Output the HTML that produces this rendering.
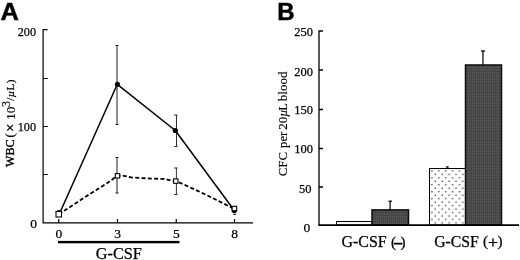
<!DOCTYPE html>
<html><head><meta charset="utf-8">
<style>
html,body{margin:0;padding:0;background:#fff;}
body{width:520px;height:260px;overflow:hidden;}
svg{display:block;}
text{font-family:"Liberation Serif",serif;fill:#000;stroke:#000;stroke-width:0.25px;}
.b{font-family:"Liberation Sans",sans-serif;font-weight:bold;font-size:24px;stroke-width:0.45px;}
.t{font-size:13.5px;}
.y{font-size:13px;stroke-width:inherit;}
.g{font-size:16px;}
</style></head><body>
<svg width="520" height="260" viewBox="0 0 520 260">
<defs>
<pattern id="dots" x="430" y="169.2" width="6.9" height="6.92" patternUnits="userSpaceOnUse">
<rect width="6.9" height="6.92" fill="#fff"/>
<circle cx="1.9" cy="1.8" r="0.72" fill="#222"/>
<circle cx="5.25" cy="5.26" r="0.72" fill="#222"/>
</pattern>
<pattern id="dk" x="0" y="0" width="2" height="3" patternUnits="userSpaceOnUse">
<rect width="2" height="3" fill="#454545"/>
<rect x="0" y="0" width="1" height="2" fill="#575757"/>
</pattern>
</defs>
<rect width="520" height="260" fill="#fff"/>
<!-- Panel A -->
<text class="b" x="0.5" y="19.5" textLength="18.4" lengthAdjust="spacingAndGlyphs">A</text>
<g stroke="#000" stroke-width="1.2" fill="none">
<path d="M47.6 29.7H43.1V222.9H253"/>
<path d="M43.1 78.5H47.9M43.1 126.5H47.9M43.1 174.5H47.9" stroke-width="1"/>
<path d="M58.75 223v-4.1M117.5 223v-4.1M176.25 223v-4.1M234.5 223v-4.1M233.5 214.3h2.2"/>
</g>
<text class="t" x="36" y="36" text-anchor="end" textLength="18.3" lengthAdjust="spacingAndGlyphs">200</text>
<text class="t" x="36" y="131" text-anchor="end" textLength="18.3" lengthAdjust="spacingAndGlyphs">100</text>
<text class="t" x="37" y="227.7" text-anchor="end">0</text>
<text class="t" x="58.75" y="237.7" text-anchor="middle">0</text>
<text class="t" x="117.5" y="237.7" text-anchor="middle">3</text>
<text class="t" x="176.25" y="237.7" text-anchor="middle">5</text>
<text class="t" x="234.5" y="237.7" text-anchor="middle">8</text>
<g transform="translate(14.3,167) rotate(-90)" style="stroke-width:0.25px">
<text class="y" x="0" y="0" style="font-size:13.5px;stroke-width:0.35px" textLength="27.6" lengthAdjust="spacingAndGlyphs">WBC</text>
<text class="y" x="29.6" y="-0.3" style="font-size:12.5px">(<tspan x="34.9" dy="1.3" style="font-size:15px;stroke-width:0.4px">×</tspan></text>
<text class="y" x="46.9" y="0.3" style="font-size:13.5px;stroke-width:0.15px">10<tspan x="60.1" dy="-4.7" style="font-size:12px">3</tspan><tspan x="66.3" dy="4.4" style="font-size:11px;stroke-width:0.25px;letter-spacing:0.42px">/<tspan font-style="italic">µ</tspan>L)</tspan></text>
</g>
<rect x="58" y="240.9" width="121.5" height="2.4" fill="#000"/>
<text class="g" x="95.8" y="258.6" textLength="46" lengthAdjust="spacingAndGlyphs">G-CSF</text>
<!-- error bars -->
<g stroke="#1c1c1c" stroke-width="1" fill="none">
<path d="M117 45.5V124.5M115.5 45.5h3M115.5 124.5h3"/>
<path d="M176.5 114.8V146.5M173.8 115h3.6M174 146.5h3.6" stroke="#333"/>
<path d="M117 157.5V193M115.5 157.5h3M115.5 193h3"/>
<path d="M176.4 168V194.5M174 168h3.6M174 194.5h3.6" stroke="#333"/>
</g>
<!-- solid line -->
<polyline points="60,212.5 117.3,84.3 175.3,130.5 234.3,210.5" fill="none" stroke="#000" stroke-width="1.5" stroke-linejoin="round"/>
<circle cx="58.8" cy="212.5" r="2.6" fill="#000"/>
<circle cx="117.4" cy="84.3" r="2.55" fill="#000"/>
<circle cx="175.3" cy="130.5" r="2.6" fill="#000"/>
<circle cx="234.3" cy="210.4" r="2.6" fill="#000"/>
<!-- dashed line -->
<path d="M58.8 214.3L85 197.1L108 182.6L117.3 175.7L124 175.8C127 176 129 177.4 133 177.6L150 178.5L163 178.9C167 179 170 180.6 175.7 181L180 182.8Q207 194.8 234.2 209" fill="none" stroke="#000" stroke-width="1.8" stroke-dasharray="4 2.3"/>
<g fill="#fff" stroke="#000" stroke-width="1.1">
<rect x="56" y="211.5" width="5.5" height="5.5"/>
<rect x="115.3" y="173.6" width="4.4" height="4.4"/>
<rect x="173.6" y="178.9" width="4.4" height="4.4"/>
<rect x="232.1" y="206.3" width="4.6" height="4.4"/>
</g>
<!-- Panel B -->
<text class="b" x="277.3" y="19.7">B</text>
<g stroke="#000" stroke-width="1.3" fill="none">
<path d="M323 31H319V225"/>
<path d="M319 70H323M319 109.5H323M319 148.5H323M319 187H323"/>
</g>
<text class="t" x="312.9" y="36.3" text-anchor="end" textLength="18.7" lengthAdjust="spacingAndGlyphs">250</text>
<text class="t" x="312.9" y="76.4" text-anchor="end" textLength="18.7" lengthAdjust="spacingAndGlyphs">200</text>
<text class="t" x="312.9" y="113.6" text-anchor="end" textLength="18.7" lengthAdjust="spacingAndGlyphs">150</text>
<text class="t" x="312.9" y="153" text-anchor="end" textLength="18.7" lengthAdjust="spacingAndGlyphs">100</text>
<text class="t" x="311.4" y="192.5" text-anchor="end" textLength="12.4" lengthAdjust="spacingAndGlyphs">50</text>
<text class="t" x="310.3" y="231.6" text-anchor="end">0</text>
<g transform="translate(286.8,176) rotate(-90)" style="stroke-width:0.15px">
<text class="y" x="-0.3" y="0" style="font-size:13.5px" textLength="24.4" lengthAdjust="spacingAndGlyphs">CFC</text>
<text class="y" x="28.1" y="0" style="font-size:12.5px" textLength="16.2" lengthAdjust="spacingAndGlyphs">per</text>
<text class="y" x="46.3" y="0" style="font-size:13px">20<tspan x="59.2" style="font-size:12.5px;font-style:italic">µ</tspan><tspan x="65.6" style="font-size:12px">L</tspan></text>
<text class="y" x="74.8" y="0" style="font-size:12.5px" textLength="29.6" lengthAdjust="spacingAndGlyphs">blood</text>
</g>
<!-- bars -->
<g stroke="#222" stroke-width="1.4" fill="none">
<path d="M390.1 201V210M388.5 201.3h3.4"/>
<path d="M447.4 166.5V169M446 166.9h2.8"/>
<path d="M482.95 50.75V65M481 51h4"/>
</g>
<rect x="336.5" y="221.5" width="35.5" height="3.5" fill="#f6f6f6" stroke="#000" stroke-width="1"/>
<rect x="372" y="209.9" width="36.5" height="15.1" fill="url(#dk)" stroke="#0c0c0c" stroke-width="1.5"/>
<rect x="429.5" y="168.5" width="36" height="56.5" fill="url(#dots)" stroke="#000" stroke-width="1"/>
<rect x="465.5" y="65" width="36" height="160" fill="url(#dk)" stroke="#0c0c0c" stroke-width="1.5"/>
<path d="M318.35 225.1H519" stroke="#000" stroke-width="1.6"/>
<text class="g" x="341.5" y="247.2" textLength="45.2" lengthAdjust="spacingAndGlyphs">G-CSF</text>
<text class="g" x="390.9" y="246.5" style="font-size:15px">(<tspan x="394.5" dy="0.2" style="font-size:14.8px;font-weight:bold;stroke-width:0.8px">–</tspan><tspan x="400.6" dy="-0.2">)</tspan></text>
<text class="g" x="434.2" y="246.7" textLength="44.6" lengthAdjust="spacingAndGlyphs">G-CSF</text>
<text class="g" x="483" y="246" style="font-size:15px">(<tspan x="488" dy="1.7" style="font-size:17.5px;stroke-width:0.4px">+</tspan><tspan x="497.6" dy="-1.7">)</tspan></text>
</svg>
</body></html>
